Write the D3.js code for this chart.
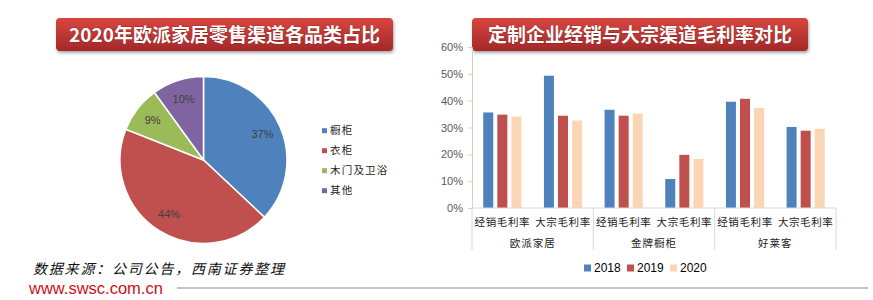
<!DOCTYPE html>
<html>
<head>
<meta charset="utf-8">
<script src="https://cdn.jsdelivr.net/npm/d3@7"></script>
<style>
  body { margin: 0; background: #fff; }
  svg { display: block; }
</style>
</head>
<body>
<div id="chart"></div>
<script>
// pie: retail channel mix
const pieLabels = ["橱柜", "衣柜", "木门及卫浴", "其他"];
const pieValues = [37, 44, 9, 10];
const pieColors = ["#4F81BD", "#C0504D", "#9BBB59", "#8064A2"];

// bars: gross margin by channel
const companies = ["欧派家居", "金牌橱柜", "好莱客"];
const channels = ["经销毛利率", "大宗毛利率"];
const years = ["2018", "2019", "2020"];
const margin2018 = [0.356, 0.493, 0.366, 0.108, 0.396, 0.302];
const margin2019 = [0.348, 0.344, 0.344, 0.198, 0.407, 0.288];
const margin2020 = [0.341, 0.326, 0.352, 0.183, 0.373, 0.295];
const yearColors = ["#4F81BD", "#C0504D", "#FCD5B5"];
const yTicks = [0, 0.1, 0.2, 0.3, 0.4, 0.5, 0.6];

const W = 873, H = 300;
const CJK = "'Noto Sans CJK SC', sans-serif";

const svg = d3.select("#chart").append("svg")
  .attr("width", W)
  .attr("height", H);

const defs = svg.append("defs");
const grad = defs.append("linearGradient")
  .attr("id", "titleGrad")
  .attr("x1", 0).attr("y1", 0).attr("x2", 0).attr("y2", 1);
grad.append("stop").attr("offset", "0%").attr("stop-color", "#d8463f");
grad.append("stop").attr("offset", "100%").attr("stop-color", "#a3282a");

const shadow = defs.append("filter").attr("id", "shadow")
  .attr("x", "-5%").attr("y", "-20%").attr("width", "110%").attr("height", "160%");
shadow.append("feDropShadow")
  .attr("dx", 1).attr("dy", 2).attr("stdDeviation", 1.5)
  .attr("flood-color", "#000").attr("flood-opacity", 0.35);

// title boxes
function titleBox(x0, x1, txt) {
  const g = svg.append("g");
  g.append("rect")
    .attr("x", x0).attr("y", 18)
    .attr("width", x1 - x0).attr("height", 33)
    .attr("rx", 4)
    .attr("fill", "url(#titleGrad)")
    .attr("filter", "url(#shadow)");
  g.append("text")
    .attr("x", (x0 + x1) / 2).attr("y", 41.5)
    .attr("text-anchor", "middle")
    .attr("font-family", CJK)
    .attr("font-weight", "bold")
    .attr("font-size", 19)
    .attr("fill", "#fff")
    .style("paint-order", "stroke")
    .attr("stroke", "rgba(80,0,0,0.35)")
    .attr("stroke-width", 1)
    .text(txt);
}
titleBox(56, 393, "2020年欧派家居零售渠道各品类占比");
titleBox(472, 808, "定制企业经销与大宗渠道毛利率对比");

// ---- pie ----
const cx = 203.5, cy = 160, R = 83.5;
const pie = d3.pie().sort(null).value(d => d)(pieValues);
const arc = d3.arc().innerRadius(0).outerRadius(R);
const labelArc = d3.arc().innerRadius(R * 0.77).outerRadius(R * 0.77);

const pieG = svg.append("g").attr("transform", `translate(${cx},${cy})`);
pieG.selectAll("path")
  .data(pie)
  .enter().append("path")
  .attr("d", arc)
  .attr("fill", (d, i) => pieColors[i])
  .attr("stroke", "#fff")
  .attr("stroke-width", 1.5);

pieG.selectAll("text")
  .data(pie)
  .enter().append("text")
  .attr("transform", d => `translate(${labelArc.centroid(d)})`)
  .attr("text-anchor", "middle")
  .attr("dy", "0.35em")
  .attr("font-family", "'Liberation Sans', Arial, sans-serif")
  .attr("font-size", 11)
  .attr("fill", "#404040")
  .text(d => d.value + "%");

const pieLeg = svg.append("g").selectAll("g")
  .data(pieLabels)
  .enter().append("g")
  .attr("transform", (d, i) => `translate(322,${130.7 + i * 20})`);
pieLeg.append("rect")
  .attr("x", 0).attr("y", -2.5)
  .attr("width", 5).attr("height", 5)
  .attr("fill", (d, i) => pieColors[i]);
pieLeg.append("text")
  .attr("x", 8).attr("dy", "0.35em")
  .attr("font-family", CJK)
  .attr("font-size", 10.5)
  .attr("letter-spacing", 1.2)
  .attr("fill", "#222")
  .text(d => d);

// ---- bars ----
const cats = companies.flatMap(c => channels.map(ch => c + "|" + ch));
const rows = cats.map((c, i) => ({
  cat: c,
  vals: [margin2018[i], margin2019[i], margin2020[i]]
}));

const x = d3.scaleBand().domain(cats).range([472, 836]);
const xYear = d3.scaleBand().domain(years)
  .range([0, x.bandwidth()])
  .paddingInner(0.29)
  .paddingOuter(0.8);
const y = d3.scaleLinear().domain([0, 0.6]).range([208, 47]);

const barG = svg.append("g");

// y axis
const yAxis = barG.append("g")
  .attr("transform", "translate(472,0)")
  .call(d3.axisLeft(y).tickValues(yTicks).tickFormat(d3.format(".0%")).tickSize(4));
yAxis.select(".domain").attr("stroke", "#d9d0bf");
yAxis.selectAll(".tick line").attr("stroke", "#d9d0bf");
yAxis.selectAll(".tick text")
  .attr("x", -9)
  .attr("font-family", "'Liberation Sans', Arial, sans-serif")
  .attr("font-size", 11)
  .attr("fill", "#595959");

const cg = barG.selectAll(".cat")
  .data(rows)
  .enter().append("g")
  .attr("class", "cat")
  .attr("transform", d => `translate(${x(d.cat)},0)`);

cg.selectAll("rect")
  .data(d => d.vals.map((v, j) => ({ year: years[j], v, j })))
  .enter().append("rect")
  .attr("x", d => xYear(d.year))
  .attr("width", xYear.bandwidth())
  .attr("y", d => y(d.v))
  .attr("height", d => y(0) - y(d.v))
  .attr("fill", d => yearColors[d.j]);

// x axis line
barG.append("line")
  .attr("x1", 472).attr("x2", 836)
  .attr("y1", y(0)).attr("y2", y(0))
  .attr("stroke", "#d9d9d9");

// group separators
const bounds = companies.map((c, i) => x(cats[i * 2])).concat([x.range()[1]]);
barG.selectAll(".sep")
  .data(bounds)
  .enter().append("line")
  .attr("class", "sep")
  .attr("x1", d => d).attr("x2", d => d)
  .attr("y1", y(0)).attr("y2", 250)
  .attr("stroke", "#d9d9d9");

barG.selectAll(".chLabel")
  .data(cats)
  .enter().append("text")
  .attr("class", "chLabel")
  .attr("x", d => x(d) + x.bandwidth() / 2)
  .attr("y", 222)
  .attr("dy", "0.35em")
  .attr("text-anchor", "middle")
  .attr("font-family", CJK)
  .attr("font-size", 10.5)
  .attr("letter-spacing", 0.6)
  .attr("fill", "#222")
  .text(d => d.split("|")[1]);

barG.selectAll(".coLabel")
  .data(companies)
  .enter().append("text")
  .attr("class", "coLabel")
  .attr("x", (d, i) => (bounds[i] + bounds[i + 1]) / 2)
  .attr("y", 243)
  .attr("dy", "0.35em")
  .attr("text-anchor", "middle")
  .attr("font-family", CJK)
  .attr("font-size", 10.5)
  .attr("letter-spacing", 1)
  .attr("fill", "#222")
  .text(d => d);

// legend
const legX = [584, 627, 670];
const barLeg = svg.append("g").selectAll("g")
  .data(years)
  .enter().append("g")
  .attr("transform", (d, i) => `translate(${legX[i]},268)`);
barLeg.append("rect")
  .attr("x", 0).attr("y", -3.5)
  .attr("width", 7).attr("height", 7)
  .attr("fill", (d, i) => yearColors[i]);
barLeg.append("text")
  .attr("x", 10).attr("dy", "0.35em")
  .attr("font-family", "'Liberation Sans', Arial, sans-serif")
  .attr("font-size", 12)
  .attr("fill", "#000")
  .text(d => d);

// footer
svg.append("text")
  .attr("x", 33).attr("y", 269.5)
  .attr("dy", "0.35em")
  .attr("font-family", CJK)
  .attr("font-style", "italic")
  .attr("font-size", 14)
  .attr("letter-spacing", 1.8)
  .attr("fill", "#111")
  .text("数据来源：公司公告，西南证券整理");

svg.append("text")
  .attr("x", 29).attr("y", 288)
  .attr("dy", "0.35em")
  .attr("font-family", "'Liberation Sans', Arial, sans-serif")
  .attr("font-size", 16.5)
  .attr("fill", "#cc1020")
  .text("www.swsc.com.cn");

svg.append("line")
  .attr("x1", 177).attr("x2", 868)
  .attr("y1", 288).attr("y2", 288)
  .attr("stroke", "#c4c4c4")
  .attr("stroke-width", 2);
</script>
</body>
</html>
